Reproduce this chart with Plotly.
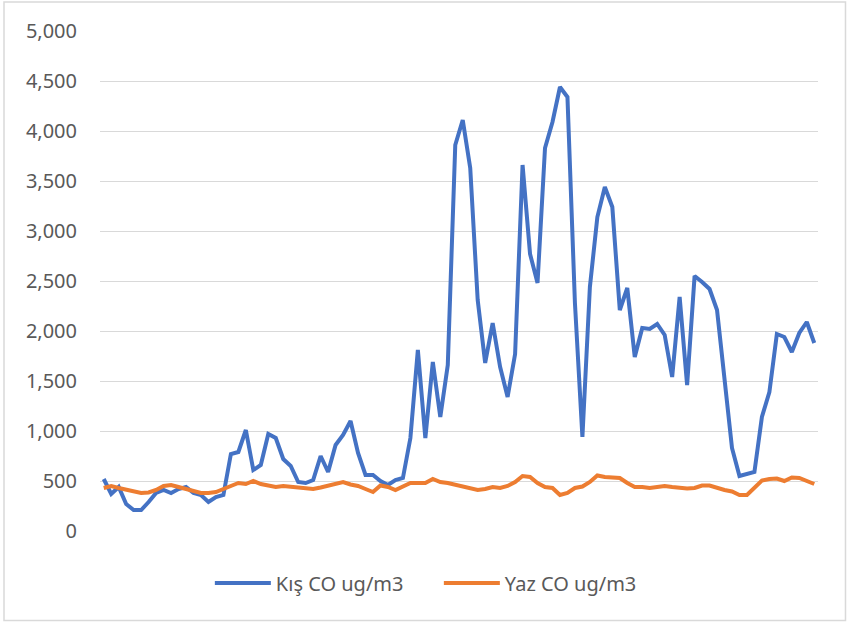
import plotly.graph_objects as go

categories = list(range(1, 97))

kis_co = [
    520, 370, 440, 270, 210, 210, 290, 380, 410, 380,
    420, 440, 380, 360, 290, 340, 360, 770, 790, 1010,
    610, 660, 970, 930, 720, 650, 490, 480, 510, 750,
    590, 860, 960, 1100, 780, 560, 560, 500, 460, 510,
    530, 930, 1810, 930, 1690, 1140, 1660, 3860, 4110, 3630,
    2310, 1680, 2080, 1640, 1340, 1770, 3660, 2770, 2480, 3830,
    4090, 4440, 4340, 2280, 940, 2440, 3140, 3440, 3240, 2210,
    2430, 1740, 2030, 2020, 2070, 1960, 1540, 2340, 1460, 2550,
    2490, 2420, 2210, 1520, 830, 550, 570, 590, 1140, 1390,
    1970, 1940, 1790, 1980, 2090, 1880,
]

yaz_co = [
    430, 450, 430, 410, 390, 380, 385, 410, 450, 460,
    440, 420, 410, 380, 380, 390, 420, 450, 480, 470,
    500, 470, 450, 440, 450, 440, 430, 425, 420, 435,
    450, 470, 490, 465, 450, 420, 390, 455, 440, 410,
    440, 480, 480, 480, 520, 490, 480, 460, 440, 420,
    410, 420, 440, 430, 450, 490, 550, 540, 480, 440,
    430, 360, 380, 430, 445, 490, 555, 540, 540, 530,
    480, 440, 440, 430, 440, 450, 440, 430, 425, 430,
    455, 455, 430, 410, 395, 360, 360, 430, 505, 520,
    525, 500, 535, 530, 505, 470,
]

series_names = ["Kış CO ug/m3", "Yaz CO ug/m3"]
y_ticks = list(range(0, 5001, 500))

fig = go.Figure()
fig.add_trace(go.Scatter(x=categories, y=kis_co, mode="lines", name=series_names[0],
                         line=dict(color="#4472C4", width=4, shape="linear")))
fig.add_trace(go.Scatter(x=categories, y=yaz_co, mode="lines", name=series_names[1],
                         line=dict(color="#ED7D31", width=4, shape="linear")))

fig.update_layout(
    width=848, height=622,
    margin=dict(l=100, r=30, t=31, b=91),
    paper_bgcolor="white", plot_bgcolor="white",
    font=dict(family="Noto Sans", size=20, color="#595959"),
    showlegend=True,
    legend=dict(orientation="h", x=0.153, xanchor="left", y=-0.104, yanchor="middle",
                itemwidth=56, entrywidth=158, entrywidthmode="pixels",
                font=dict(size=20, color="#595959"),
                bgcolor="rgba(0,0,0,0)"),
    xaxis=dict(type="linear", range=[0.5, 96.5], showticklabels=False, showgrid=False,
               zeroline=False, showline=False, ticks=""),
    yaxis=dict(range=[0, 5000], tickvals=y_ticks, tickformat=",", showgrid=True,
               gridcolor="#D9D9D9", gridwidth=1.3, zeroline=False, showline=False,
               ticks="", ticklabelstandoff=22),
    shapes=[dict(type="rect", xref="paper", yref="paper",
                 x0=-0.1337, x1=1.0383, y0=-0.179, y1=1.058,
                 line=dict(color="#D9D9D9", width=1.5), fillcolor="rgba(0,0,0,0)",
                 layer="below")],
)

fig.write_html("out.html", config={"displayModeBar": False},
               post_script="document.body.style.margin='0';")
